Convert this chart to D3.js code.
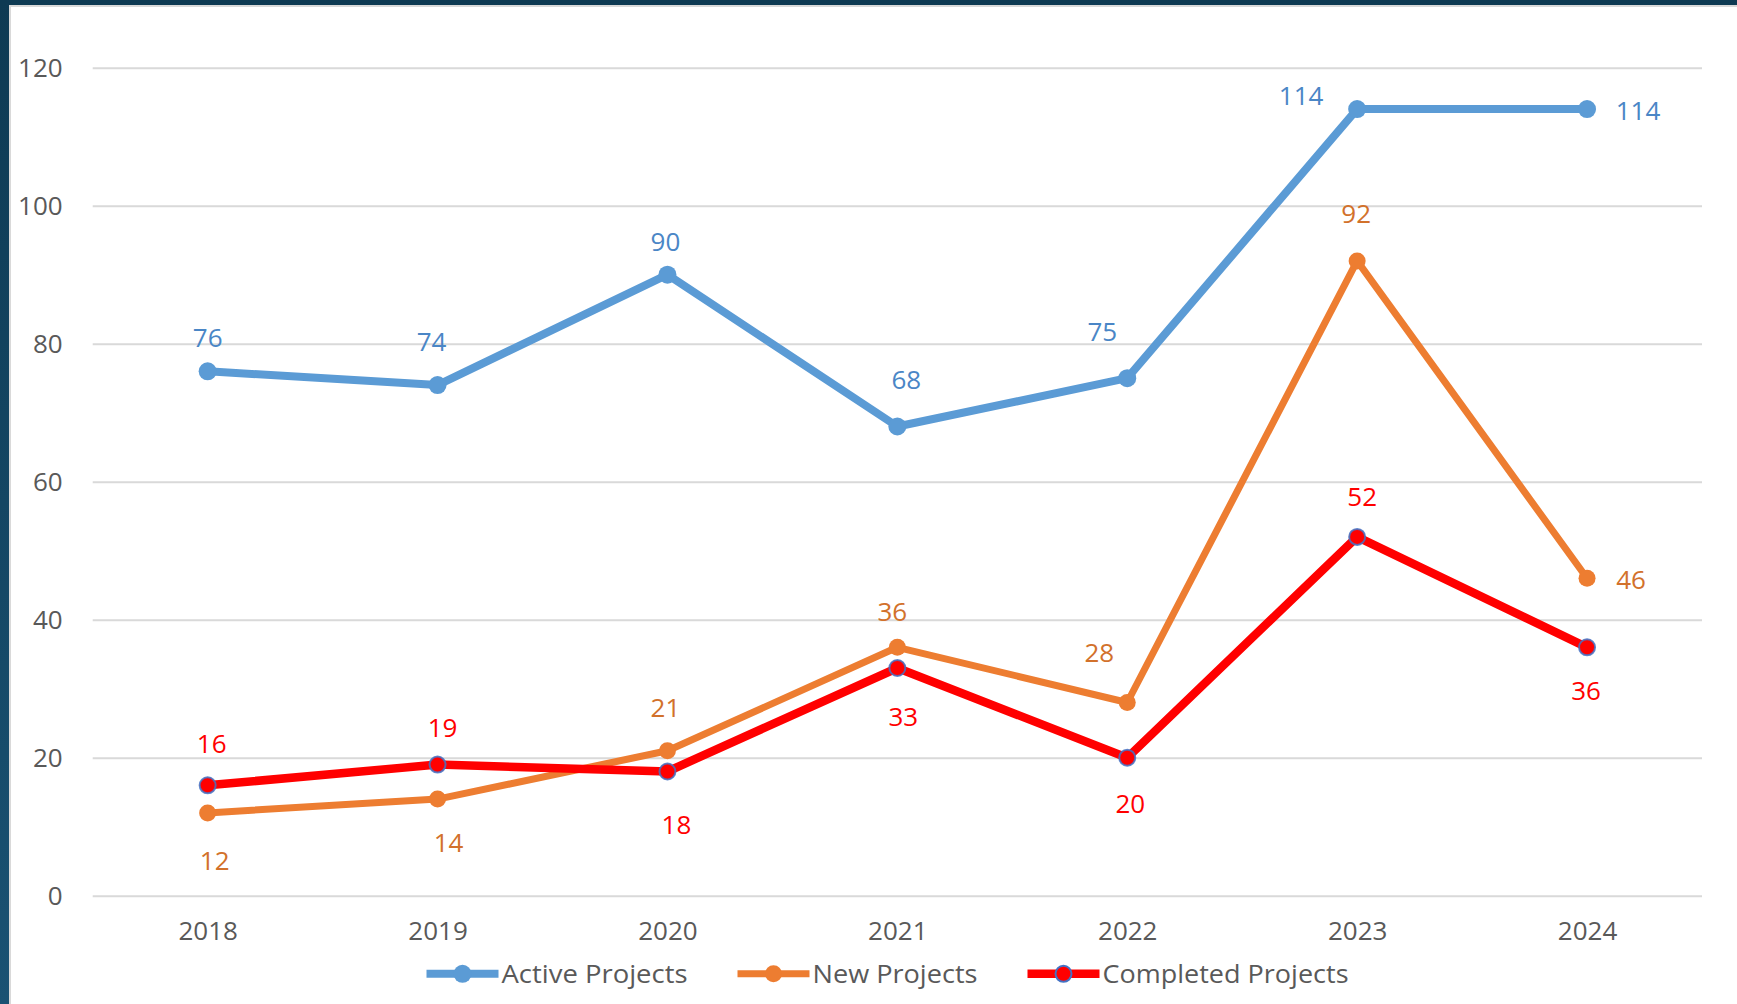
<!DOCTYPE html>
<html>
<head>
<meta charset="utf-8">
<script src="https://cdn.jsdelivr.net/npm/d3@7"></script>
<style>
  html, body { margin: 0; padding: 0; background: #0f3c56; }
  svg { display: block; }
  text { font-family: "Open Sans", "Noto Sans", sans-serif; }
</style>
</head>
<body>
<svg id="chart" width="1737" height="1004"></svg>
<script>
// ---- data ----
const years = ["2018", "2019", "2020", "2021", "2022", "2023", "2024"];
const activeProjects = [76, 74, 90, 68, 75, 114, 114];
const newProjects = [12, 14, 21, 36, 28, 92, 46];
const completedProjects = [16, 19, 18, 33, 20, 52, 36];
const yTicks = [0, 20, 40, 60, 80, 100, 120];
const seriesNames = ["Active Projects", "New Projects", "Completed Projects"];

// ---- label placement (style, px offsets from point) ----
const activeLabelOffsets = [[0,-34],[-6,-43],[-2,-33],[9,-47],[-25,-47],[-56,-13],[51,1.5]];
const newLabelOffsets = [[7,48],[11,44],[-2,-43],[-5,-36],[-28,-50],[-1,-47],[44,1]];
const completedLabelOffsets = [[4,-42],[5,-37],[9,53],[6,49],[3,46],[5,-40],[-1,43]];

const W = 1737, H = 1004;
const plot = { left: 92.7, right: 1702, top: 67.7, bottom: 895.7 };
const fontSize = 26;

const svg = d3.select("#chart");

// background frame
const defs = svg.append("defs");
const grad = defs.append("linearGradient").attr("id", "frameGrad")
  .attr("x1", 0).attr("y1", 0).attr("x2", 0).attr("y2", 1);
grad.append("stop").attr("offset", "0%").attr("stop-color", "#0e3a53");
grad.append("stop").attr("offset", "100%").attr("stop-color", "#1a5273");
svg.append("rect").attr("width", W).attr("height", H).attr("fill", "url(#frameGrad)");
svg.append("rect").attr("x", 9).attr("y", 5).attr("width", W - 9).attr("height", H - 5).attr("fill", "#d9d9d9");
svg.append("rect").attr("x", 11).attr("y", 7).attr("width", W - 11).attr("height", H - 7).attr("fill", "#ffffff");

// scales
const x = d3.scalePoint().domain(years).range([plot.left, plot.right]).padding(0.5);
const y = d3.scaleLinear().domain([0, 120]).range([plot.bottom, plot.top]);

// y axis + gridlines
const yAxis = svg.append("g")
  .attr("transform", `translate(${plot.left},0)`)
  .call(d3.axisLeft(y).tickValues(yTicks).tickSizeInner(-(plot.right - plot.left)).tickSizeOuter(0).tickPadding(30));
yAxis.select(".domain").remove();
yAxis.selectAll(".tick line").attr("stroke", "#d9d9d9").attr("stroke-width", 2);
yAxis.selectAll(".tick text").attr("fill", "#595959").style("font-size", fontSize + "px")
  .attr("x", -30);

// x axis
const xAxis = svg.append("g")
  .attr("transform", `translate(0,${plot.bottom})`)
  .call(d3.axisBottom(x).tickSize(0).tickPadding(26));
xAxis.select(".domain").remove();
xAxis.selectAll(".tick text").attr("fill", "#595959").style("font-size", fontSize + "px");

// series
const series = [
  { name: seriesNames[0], values: activeProjects, offsets: activeLabelOffsets,
    color: "#5b9bd5", labelColor: "#4a86c6", width: 8, r: 9, markerStroke: null },
  { name: seriesNames[1], values: newProjects, offsets: newLabelOffsets,
    color: "#ed7d31", labelColor: "#d2712b", width: 7, r: 8.5, markerStroke: null },
  { name: seriesNames[2], values: completedProjects, offsets: completedLabelOffsets,
    color: "#ff0000", labelColor: "#ff0000", width: 8.5, r: 8, markerStroke: "#4472c4" }
];

const line = d3.line().x((d, i) => x(years[i])).y(d => y(d));

series.forEach(s => {
  const g = svg.append("g");
  g.append("path").datum(s.values)
    .attr("d", line).attr("fill", "none")
    .attr("stroke", s.color).attr("stroke-width", s.width)
    .attr("stroke-linejoin", "round").attr("stroke-linecap", "round");
  g.selectAll("circle").data(s.values).join("circle")
    .attr("cx", (d, i) => x(years[i])).attr("cy", d => y(d))
    .attr("r", s.r).attr("fill", s.color)
    .attr("stroke", s.markerStroke || "none").attr("stroke-width", s.markerStroke ? 2 : 0)
    .attr("stroke-opacity", 0.85);
});

// labels on top
series.forEach(s => {
  svg.append("g").selectAll("text").data(s.values).join("text")
    .attr("x", (d, i) => x(years[i]) + s.offsets[i][0])
    .attr("y", (d, i) => y(d) + s.offsets[i][1])
    .attr("dy", "0.36em")
    .attr("text-anchor", "middle")
    .attr("fill", s.labelColor)
    .style("font-size", fontSize + "px")
    .text(d => d);
});

// legend
const legendY = 973.8;
const legendTextWidths = [186, 165, 246];
const lineLen = 72, textGap = 3, itemGap = 50;
let lx = 426.5;
series.forEach((s, i) => {
  const g = svg.append("g");
  g.append("line").attr("x1", lx).attr("x2", lx + lineLen)
    .attr("y1", legendY).attr("y2", legendY)
    .attr("stroke", s.color).attr("stroke-width", s.width);
  g.append("circle").attr("cx", lx + lineLen / 2).attr("cy", legendY).attr("r", s.r)
    .attr("fill", s.color)
    .attr("stroke", s.markerStroke || "none").attr("stroke-width", s.markerStroke ? 2 : 0);
  g.append("text").attr("x", lx + lineLen + textGap).attr("y", legendY).attr("dy", "0.36em")
    .attr("fill", "#595959").style("font-size", fontSize + "px")
    .attr("textLength", legendTextWidths[i]).attr("lengthAdjust", "spacingAndGlyphs")
    .text(s.name);
  lx += lineLen + textGap + legendTextWidths[i] + itemGap;
});
</script>
</body>
</html>
